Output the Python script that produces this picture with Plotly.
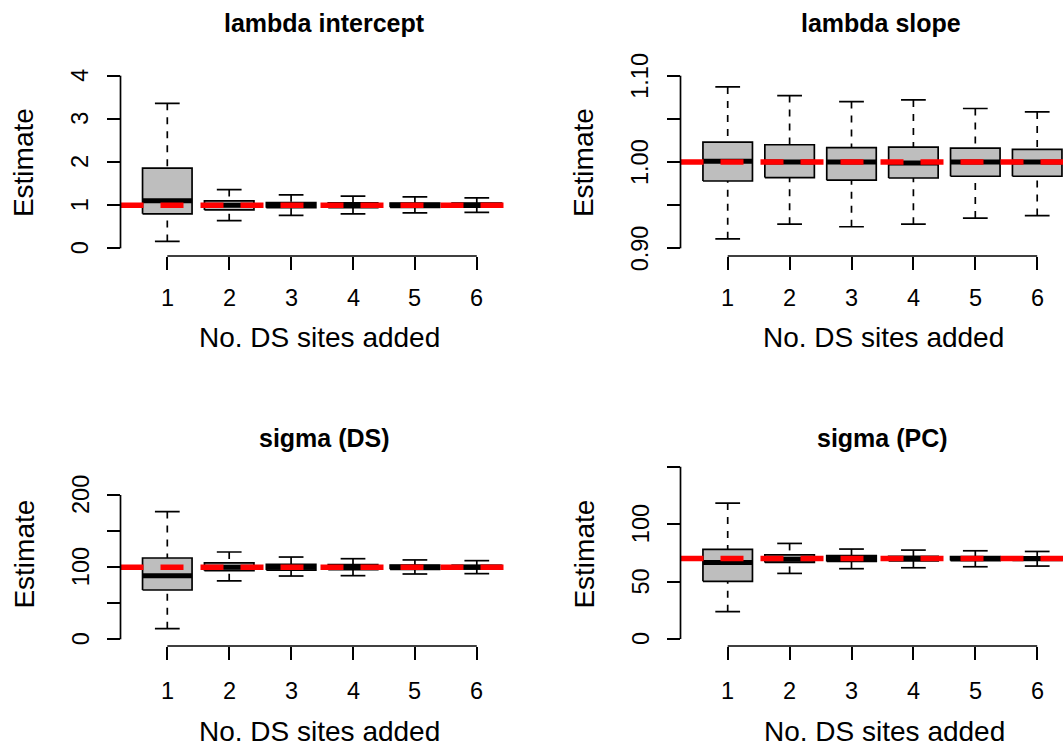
import plotly.graph_objects as go

W, H = 1063, 748

# ---------------- data ----------------
groups = [1, 2, 3, 4, 5, 6]
x_tick_text = ["1", "2", "3", "4", "5", "6"]

titles = ["lambda intercept", "lambda slope", "sigma (DS)", "sigma (PC)"]
true_values = [1.0, 1.0, 100.0, 70.0]

# lambda intercept
li_low = [0.16, 0.64, 0.765, 0.80, 0.82, 0.835]
li_q1 = [0.80, 0.89, 0.94, 0.945, 0.95, 0.955]
li_med = [1.10, 1.00, 1.00, 1.00, 1.00, 1.00]
li_q3 = [1.856, 1.097, 1.06, 1.055, 1.05, 1.045]
li_high = [3.36, 1.36, 1.24, 1.21, 1.19, 1.17]

# lambda slope
ls_low = [0.911, 0.928, 0.925, 0.928, 0.935, 0.938]
ls_q1 = [0.978, 0.982, 0.979, 0.9815, 0.9835, 0.9835]
ls_med = [1.001, 1.000, 1.000, 0.999, 1.000, 1.000]
ls_q3 = [1.023, 1.020, 1.0166, 1.0173, 1.016, 1.0147]
ls_high = [1.087, 1.077, 1.070, 1.072, 1.062, 1.058]

# sigma (DS)
sd_low = [14.7, 81.0, 87.7, 88.2, 90.5, 91.0]
sd_q1 = [68.3, 95.1, 96.0, 96.5, 97.0, 97.5]
sd_med = [88.2, 100.0, 100.0, 100.0, 100.0, 100.0]
sd_q3 = [112.7, 105.8, 104.0, 103.5, 103.0, 102.5]
sd_high = [177.0, 121.0, 114.0, 111.7, 110.0, 109.0]

# sigma (PC)
sp_low = [23.8, 57.1, 61.2, 62.0, 62.9, 63.5]
sp_q1 = [50.2, 66.7, 67.5, 68.0, 68.3, 68.5]
sp_med = [66.7, 69.5, 70.0, 70.0, 70.0, 70.0]
sp_q3 = [78.0, 73.3, 72.5, 72.0, 71.7, 71.5]
sp_high = [118.3, 83.2, 78.3, 77.4, 76.8, 76.2]

# y-axis ticks
li_ticks = [0, 1, 2, 3, 4]
li_tick_text = ["0", "1", "2", "3", "4"]
ls_ticks = [0.90, 0.95, 1.00, 1.05, 1.10]
ls_tick_text = ["0.90", "", "1.00", "", "1.10"]
sd_ticks = [0, 50, 100, 150, 200]
sd_tick_text = ["0", "", "100", "", "200"]
sp_ticks = [0, 50, 100, 150]
sp_tick_text = ["0", "50", "100", ""]

x_title = "No. DS sites added"
y_title = "Estimate"

# ---------------- layout (pixels) ----------------
FONT = "Liberation Sans, Arial, sans-serif"
TICK_SIZE = 23.5
TITLE_SIZE = 25
LAB_SIZE = 28
BOX_HALF = 0.4
CAP_HALF = 0.2
LW = 1.7


def px_x(p):
    return p / W


def px_y(p):
    return 1 - p / H


panels = [
    dict(stats=(li_low, li_q1, li_med, li_q3, li_high), ticks=li_ticks, ticktext=li_tick_text,
         xdom=(120.5, 520), ydom=(256, 69), xrange=[0.2439, 6.698], yrange=[-0.178, 4.155],
         title_xy=(324.5, 22.8), xt_xy=(319.5, 337.6), yt_xy=(23.6, 162.5),
         xlab_off=41.5, ylab_off=40.5),
    dict(stats=(ls_low, ls_q1, ls_med, ls_q3, ls_high), ticks=ls_ticks, ticktext=ls_tick_text,
         xdom=(680.5, 1063), ydom=(256, 69), xrange=[0.2375, 6.4168], yrange=[0.8911, 1.1078],
         title_xy=(880.7, 22.8), xt_xy=(883.4, 337.6), yt_xy=(583.6, 162.5),
         xlab_off=41.5, ylab_off=40.5),
    dict(stats=(sd_low, sd_q1, sd_med, sd_q3, sd_high), ticks=sd_ticks, ticktext=sd_tick_text,
         xdom=(120.5, 520), ydom=(646, 459.5), xrange=[0.2439, 6.698], yrange=[-9.3, 249.2],
         title_xy=(324.0, 438.3), xt_xy=(319.6, 731.5), yt_xy=(23.6, 554.0),
         xlab_off=45.0, ylab_off=39.5),
    dict(stats=(sp_low, sp_q1, sp_med, sp_q3, sp_high), ticks=sp_ticks, ticktext=sp_tick_text,
         xdom=(680.5, 1063), ydom=(646, 459.5), xrange=[0.2375, 6.4168], yrange=[-6.09, 156.26],
         title_xy=(882.0, 438.3), xt_xy=(884.0, 731.5), yt_xy=(583.6, 554.0),
         xlab_off=45.0, ylab_off=39.5),
]

fig = go.Figure()
shapes = []
annotations = []
layout = {}

for k, p in enumerate(panels):
    n = "" if k == 0 else str(k + 1)
    xa, ya = "x" + n, "y" + n
    lo, q1, med, q3, hi = p["stats"]

    # whiskers (dashed), drawn from the extreme toward the box
    wx, wy = [], []
    for g, a, b, c, d in zip(groups, lo, q1, q3, hi):
        wx += [g, g, None, g, g, None]
        wy += [a, b, None, d, c, None]
    fig.add_trace(go.Scatter(x=wx, y=wy, mode="lines", xaxis=xa, yaxis=ya,
                             line=dict(color="black", width=LW, dash="7px,7px"),
                             hoverinfo="skip", showlegend=False))
    # staples
    sx, sy = [], []
    for g, a, d in zip(groups, lo, hi):
        sx += [g - CAP_HALF, g + CAP_HALF, None, g - CAP_HALF, g + CAP_HALF, None]
        sy += [a, a, None, d, d, None]
    fig.add_trace(go.Scatter(x=sx, y=sy, mode="lines", xaxis=xa, yaxis=ya,
                             line=dict(color="black", width=LW),
                             hoverinfo="skip", showlegend=False))
    # boxes
    for g, b, c in zip(groups, q1, q3):
        fig.add_trace(go.Scatter(
            x=[g - BOX_HALF, g + BOX_HALF, g + BOX_HALF, g - BOX_HALF, g - BOX_HALF],
            y=[b, b, c, c, b], mode="lines", fill="toself", fillcolor="#BEBEBE",
            xaxis=xa, yaxis=ya, line=dict(color="black", width=LW),
            hoverinfo="skip", showlegend=False))
    # medians
    mx, my = [], []
    for g, m in zip(groups, med):
        mx += [g - BOX_HALF, g + BOX_HALF, None]
        my += [m, m, None]
    fig.add_trace(go.Scatter(x=mx, y=my, mode="lines", xaxis=xa, yaxis=ya,
                             line=dict(color="black", width=5),
                             hoverinfo="skip", showlegend=False))

    # reference line for the true value
    shapes.append(dict(type="line", xref=xa + " domain", yref=ya, x0=0, x1=1,
                       y0=true_values[k], y1=true_values[k], layer="above",
                       line=dict(color="#FF0000", width=5.5, dash="23px,17px")))
    # R-style axis lines spanning first to last tick
    shapes.append(dict(type="line", xref=xa + " domain", yref=ya, x0=0, x1=0,
                       y0=p["ticks"][0], y1=p["ticks"][-1], layer="above",
                       line=dict(color="black", width=LW)))
    shapes.append(dict(type="line", xref=xa, yref=ya + " domain", x0=groups[0], x1=groups[-1],
                       y0=0, y1=0, layer="above", line=dict(color="black", width=LW)))

    layout["xaxis" + n] = dict(
        domain=[px_x(p["xdom"][0]), px_x(p["xdom"][1])], range=p["xrange"], anchor=ya,
        tickmode="array", tickvals=groups, ticks="outside", showticklabels=False,
        ticklen=13, tickwidth=LW, tickcolor="black", showgrid=False, zeroline=False,
        showline=False)
    layout["yaxis" + n] = dict(
        domain=[px_y(p["ydom"][0]), px_y(p["ydom"][1])], range=p["yrange"], anchor=xa,
        tickmode="array", tickvals=p["ticks"], ticks="outside", showticklabels=False,
        ticklen=13, tickwidth=LW, tickcolor="black", showgrid=False, zeroline=False,
        showline=False)

    # tick labels (R style: y labels parallel to the axis)
    for g, t in zip(groups, x_tick_text):
        annotations.append(dict(text=t, xref=xa, x=g, yref=ya + " domain", y=0,
                                yshift=-p["xlab_off"], xanchor="center", yanchor="middle",
                                showarrow=False,
                                font=dict(family=FONT, size=TICK_SIZE, color="black")))
    for v, t in zip(p["ticks"], p["ticktext"]):
        if t:
            annotations.append(dict(text=t, xref=xa + " domain", x=0, xshift=-p["ylab_off"],
                                    yref=ya, y=v, xanchor="center", yanchor="middle",
                                    textangle=-90, showarrow=False,
                                    font=dict(family=FONT, size=TICK_SIZE, color="black")))

    tx, ty = p["title_xy"]
    annotations.append(dict(text=titles[k], x=px_x(tx), y=px_y(ty), xref="paper", yref="paper",
                            xanchor="center", yanchor="middle", showarrow=False,
                            font=dict(family=FONT, size=TITLE_SIZE, color="black", weight="bold")))
    tx, ty = p["xt_xy"]
    annotations.append(dict(text=x_title, x=px_x(tx), y=px_y(ty), xref="paper", yref="paper",
                            xanchor="center", yanchor="middle", showarrow=False,
                            font=dict(family=FONT, size=LAB_SIZE, color="black")))
    tx, ty = p["yt_xy"]
    annotations.append(dict(text=y_title, x=px_x(tx), y=px_y(ty), xref="paper", yref="paper",
                            xanchor="center", yanchor="middle", showarrow=False, textangle=-90,
                            font=dict(family=FONT, size=LAB_SIZE, color="black")))

fig.update_layout(width=W, height=H, margin=dict(l=0, r=0, t=0, b=0),
                  paper_bgcolor="white", plot_bgcolor="white", showlegend=False,
                  shapes=shapes, annotations=annotations, **layout)

fig.write_html("out.html")
